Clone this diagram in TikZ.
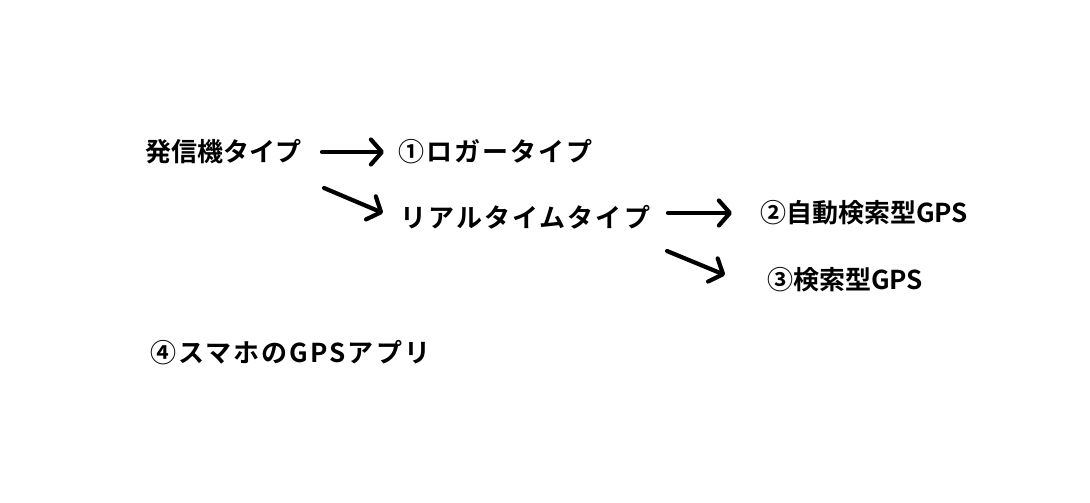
\documentclass[tikz,border=0pt]{standalone}
\usepackage{fontspec}
\newfontfamily\jp{Noto Sans CJK JP}[BoldFont={Noto Sans CJK JP Bold}]
\newfontfamily\jpwide{Noto Sans CJK JP}[BoldFont={Noto Sans CJK JP Bold}, LetterSpace=8]
\usetikzlibrary{arrows.meta}
\tikzset{
  lbl/.style={anchor=west, inner sep=0pt, font=\jp\bfseries\fontsize{26}{28}\selectfont},
  lblw/.style={anchor=west, inner sep=0pt, font=\jpwide\bfseries\fontsize{26}{28}\selectfont},
  arr/.style={line width=4.2pt, line cap=round, line join=round, -{Straight Barb[length=11pt,width=25pt,line cap=round,line join=round]}}
}
\begin{document}
\begin{tikzpicture}[x=1pt,y=-1pt]
\useasboundingbox[fill=white] (0,0) rectangle (1090,503);
\node[lbl] (hasshin) at (145,152) {発信機タイプ};
\node[lblw] (logger) at (398,152) {①ロガータイプ};
\node[lblw] (real) at (400,217) {リアルタイムタイプ};
\node[lbl] (auto) at (760,213) {②自動検索型GPS};
\node[lbl] (search) at (767,280) {③検索型GPS};
\node[lblw] (app) at (150,353) {④スマホのGPSアプリ};
\coordinate (a1s) at (322,152);
\coordinate (a1e) at (384,152);
\coordinate (a2s) at (324,188);
\coordinate (a2e) at (383,213);
\coordinate (a3s) at (668,213);
\coordinate (a3e) at (732,213);
\coordinate (a4s) at (667,251);
\coordinate (a4e) at (725,275);
\draw[arr] (a1s) -- (a1e);
\draw[arr] (a2s) -- (a2e);
\draw[arr] (a3s) -- (a3e);
\draw[arr] (a4s) -- (a4e);
\end{tikzpicture}
\end{document}
